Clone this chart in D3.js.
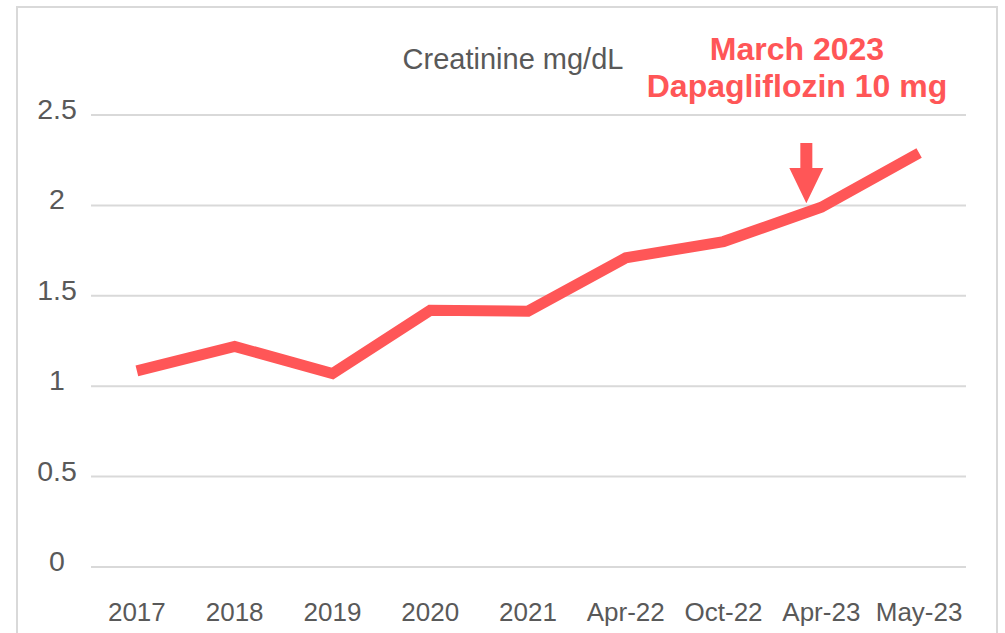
<!DOCTYPE html>
<html>
<head>
<meta charset="utf-8">
<script src="https://cdn.jsdelivr.net/npm/d3@7"></script>
<style>
  html, body { margin: 0; padding: 0; background: #fff; }
  #chart { width: 1005px; height: 633px; }
  text { font-family: "Liberation Sans", Arial, sans-serif; }
</style>
</head>
<body>
<div id="chart"></div>
<script>
// Data
const categories = ["2017", "2018", "2019", "2020", "2021", "Apr-22", "Oct-22", "Apr-23", "May-23"];
const creatinine = [1.085, 1.22, 1.07, 1.42, 1.415, 1.71, 1.80, 1.99, 2.29];
const yTicks = [0, 0.5, 1, 1.5, 2, 2.5];
const titleText = "Creatinine mg/dL";
const noteLines = ["March 2023", "Dapagliflozin 10 mg"];

const W = 1005, H = 633;
const red = "#ff5657";
const grey = "#595959";

const svg = d3.select("#chart")
    .append("svg")
    .attr("width", W)
    .attr("height", H);

// outer frame
svg.append("rect")
    .attr("x", 17).attr("y", 7)
    .attr("width", 980).attr("height", 650)
    .attr("fill", "#fff")
    .attr("stroke", "#d9d9d9")
    .attr("stroke-width", 2);

const x = d3.scaleBand()
    .domain(categories)
    .range([88, 968]);

const y = d3.scaleLinear()
    .domain([0, 2.5])
    .range([567, 115]);

// gridlines
svg.selectAll(".grid")
    .data(yTicks)
    .enter()
    .append("line")
    .attr("class", "grid")
    .attr("x1", 91)
    .attr("x2", 966)
    .attr("y1", d => y(d))
    .attr("y2", d => y(d))
    .attr("stroke", "#d9d9d9")
    .attr("stroke-width", 2);

// y labels
svg.selectAll(".ylab")
    .data(yTicks)
    .enter()
    .append("text")
    .attr("class", "ylab")
    .attr("x", 57)
    .attr("y", d => y(d) + 4)
    .attr("text-anchor", "middle")
    .style("fill", grey)
    .style("font-size", "28.5px")
    .text(d => d);

// x labels
svg.selectAll(".xlab")
    .data(categories)
    .enter()
    .append("text")
    .attr("class", "xlab")
    .attr("x", d => x(d) + x.bandwidth() / 2)
    .attr("y", 621)
    .attr("text-anchor", "middle")
    .style("fill", grey)
    .style("font-size", "26px")
    .text(d => d);

// line
const line = d3.line()
    .x((d, i) => x(categories[i]) + x.bandwidth() / 2)
    .y(d => y(d));

svg.append("path")
    .datum(creatinine)
    .attr("d", line)
    .attr("fill", "none")
    .attr("stroke", red)
    .attr("stroke-width", 11)
    .attr("stroke-linejoin", "miter")
    .attr("stroke-linecap", "butt");

// title
svg.append("text")
    .attr("x", 513)
    .attr("y", 69)
    .attr("text-anchor", "middle")
    .style("fill", grey)
    .style("font-size", "29px")
    .text(titleText);

// annotation
const noteX = 797;
svg.selectAll(".note")
    .data(noteLines)
    .enter()
    .append("text")
    .attr("class", "note")
    .attr("x", noteX)
    .attr("y", (d, i) => 60 + i * 37)
    .attr("text-anchor", "middle")
    .style("fill", red)
    .style("font-size", "32px")
    .style("font-weight", "bold")
    .text(d => d);

// arrow pointing down at the Apr-23 point
const ax = x("Apr-23") + x.bandwidth() / 2 - 15;
const tipY = y(creatinine[7]) - 4;
svg.append("path")
    .attr("d", `M${ax - 6},143 L${ax + 6},143 L${ax + 6},168 L${ax + 17},168 L${ax},${tipY} L${ax - 17},168 L${ax - 6},168 Z`)
    .attr("fill", red);
</script>
</body>
</html>
